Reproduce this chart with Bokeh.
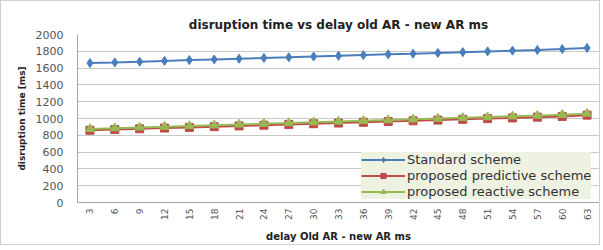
import math
from bokeh.plotting import figure
from bokeh.models import FixedTicker, Legend, LegendItem, Range1d
from bokeh.embed import file_html
from bokeh.resources import INLINE

delay = [3, 6, 9, 12, 15, 18, 21, 24, 27, 30, 33, 36, 39, 42, 45, 48, 51, 54, 57, 60, 63]
standard = [1660, 1668, 1677, 1686, 1695, 1703, 1712, 1721, 1729, 1738, 1746, 1755, 1764, 1772, 1781, 1790, 1799, 1808, 1816, 1826, 1840]
predictive = [860, 868, 877, 886, 894, 903, 912, 920, 929, 938, 946, 955, 964, 972, 981, 990, 999, 1007, 1016, 1025, 1040]
reactive = [876, 885, 894, 903, 911, 920, 929, 938, 946, 955, 964, 973, 982, 990, 999, 1008, 1017, 1026, 1034, 1044, 1058]
y_ticks = [0, 200, 400, 600, 800, 1000, 1200, 1400, 1600, 1800, 2000]

FONT = "DejaVu Sans"

p = figure(frame_width=522, frame_height=168, output_backend="svg", toolbar_location=None,
           x_range=Range1d(1.5, 64.5), y_range=Range1d(0, 2000),
           min_border_left=76, min_border_right=0, min_border_top=33, min_border_bottom=40,
           background_fill_color="white", border_fill_color="white",
           styles={"border": "1px solid #cfcfcf"})

p.title.text = "disruption time vs delay old AR - new AR ms"
p.title.align = "center"
p.title.text_font = FONT
p.title.text_font_size = "12px"
p.title.text_font_style = "bold"
p.title.text_color = "#222222"
p.title.offset = 0
p.title.standoff = 6

p.outline_line_color = None
p.xgrid.grid_line_color = None
p.ygrid.grid_line_color = "#c8c8c8"
p.ygrid.grid_line_width = 1

p.xaxis.ticker = FixedTicker(ticks=delay)
p.yaxis.ticker = FixedTicker(ticks=y_ticks)
p.xaxis.major_label_orientation = math.pi / 2
for ax in (p.xaxis, p.yaxis):
    ax.axis_line_color = "#a6a6a6"
    ax.major_tick_line_color = None
    ax.minor_tick_line_color = None
    ax.major_tick_out = 0
    ax.major_tick_in = 0
    ax.major_label_text_font = FONT
    ax.major_label_text_color = "#555555"
    ax.axis_label_text_font = FONT
    ax.axis_label_text_font_style = "bold"
    ax.axis_label_text_color = "#222222"
p.yaxis.major_label_text_font_size = "11px"
p.yaxis.major_label_standoff = 14
p.xaxis.major_label_text_font_size = "9px"
p.xaxis.major_label_standoff = 6
p.xaxis.axis_label = "delay Old AR - new AR ms"
p.xaxis.axis_label_text_font_size = "10px"
p.xaxis.axis_label_standoff = 8
p.yaxis.axis_label = "disruption time [ms]"
p.yaxis.axis_label_text_font_size = "9px"
p.yaxis.axis_label_standoff = 6

BLUE = "#4a7ebb"
RED = "#be4b48"
GREEN = "#98b954"

l1 = p.line(delay, standard, line_color=BLUE, line_width=2)
m1 = p.scatter(delay, standard, marker="diamond", size=9, fill_color=BLUE, line_color=BLUE)
l2 = p.line(delay, predictive, line_color=RED, line_width=2)
m2 = p.scatter(delay, predictive, marker="square", size=8, fill_color=RED, line_color=RED)
l3 = p.line(delay, reactive, line_color=GREEN, line_width=2)
m3 = p.scatter(delay, reactive, marker="triangle", size=9, fill_color=GREEN, line_color=GREEN)

legend = Legend(items=[
    LegendItem(label="Standard scheme", renderers=[l1, m1]),
    LegendItem(label="proposed predictive scheme", renderers=[l2, m2]),
    LegendItem(label="proposed reactive scheme", renderers=[l3, m3]),
], location=(284, 3))
legend.background_fill_color = "#edf2e1"
legend.background_fill_alpha = 1.0
legend.border_line_color = None
legend.label_text_font = FONT
legend.label_text_font_size = "13px"
legend.label_text_color = "#333333"
legend.label_height = 13
legend.glyph_height = 13
legend.glyph_width = 44
legend.spacing = 1
legend.padding = 4
legend.margin = 0
legend.label_standoff = 2
p.add_layout(legend, "center")

open("out.html", "w").write(file_html(p, INLINE))
